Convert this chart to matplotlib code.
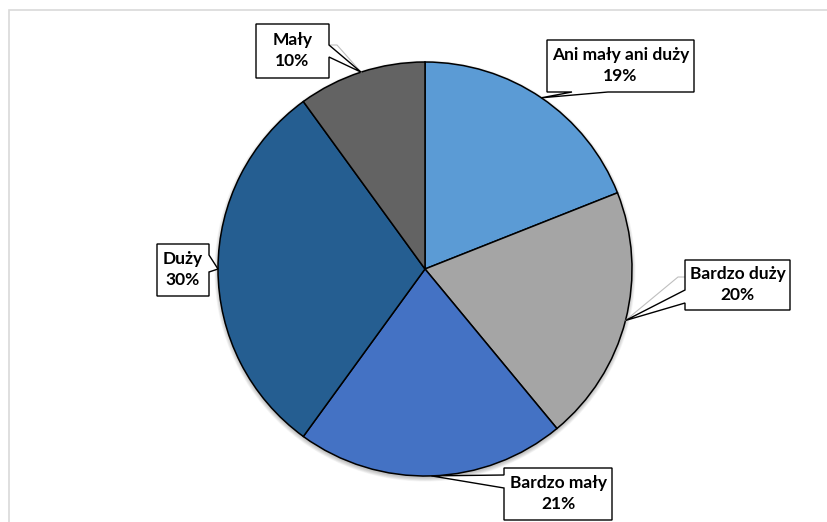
import numpy as np
import matplotlib
matplotlib.use("Agg")
import matplotlib.pyplot as plt
from matplotlib.patches import Polygon, Rectangle, Circle

# Answers (share of respondents, %)
categories = ["Ani mały ani duży", "Bardzo duży", "Bardzo mały", "Duży", "Mały"]
shares = [19, 20, 21, 30, 10]
colors = ["#5B9BD5", "#A5A5A5", "#4472C4", "#255E91", "#636363"]

W, H = 827, 522
fig = plt.figure(figsize=(W / 100, H / 100), dpi=100)
ax = fig.add_axes([0, 0, 1, 1])

plt.rcParams["font.family"] = ["Lato", "DejaVu Sans"]

# chart area frame
fig.patches.append(Rectangle((9 / W, -0.1), 1.2, (H - 10) / H + 0.1,
                             transform=fig.transFigure, fill=False,
                             edgecolor="#D9D9D9", linewidth=1.2))

cx, cy, r = 425, H - 269, 207

# soft shadow around the pie
for i in range(7):
    ax.add_patch(Circle((cx, cy - 2.0), r + 0.6 * i, color="black",
                        alpha=0.035, linewidth=0, zorder=1))

wedges, _ = ax.pie(shares, colors=colors, startangle=90, counterclock=False,
                   center=(cx, cy), radius=r, frame=True,
                   wedgeprops=dict(edgecolor="black", linewidth=1.1))
for w in wedges:
    w.set_zorder(2)
ax.set_xlim(0, W)
ax.set_ylim(0, H)
ax.set_aspect("equal")
ax.axis("off")

# callout boxes: (x0, y0, x1, y1) in pixels from top-left, side of the pointer, pointer base
callouts = {
    "Ani mały ani duży": ((547, 40, 694, 92), "bottom", (572, 608), None),
    "Bardzo duży": ((685, 260, 790, 310), "left", (290, 303), [(685, 277), (678, 277)]),
    "Bardzo mały": ((504, 468, 612, 520), "left", (475, 488), None),
    "Duży": ((157, 244, 209, 296), "right", (255, 272), None),
    "Mały": ((256, 24, 329, 78), "right", (45, 57), [(329, 45), (337, 45)]),
}

def to_data(p):
    return (p[0], H - p[1])

total = sum(shares)
start = 90.0
for name, val in zip(categories, shares):
    sweep = 360.0 * val / total
    mid = np.deg2rad(start - sweep / 2)
    start -= sweep
    tip_d = (cx + r * np.cos(mid), cy + r * np.sin(mid))
    tip = (tip_d[0], H - tip_d[1])

    (x0, y0, x1, y1), side, (a, b), leader = callouts[name]
    pts = [(x0, y0), (x1, y0)]
    if side == "right":
        pts += [(x1, a), tip, (x1, b)]
    pts += [(x1, y1)]
    if side == "bottom":
        pts += [(b, y1), tip, (a, y1)]
    pts += [(x0, y1)]
    if side == "left":
        pts += [(x0, b), tip, (x0, a)]

    if leader:
        lp = [to_data(p) for p in leader] + [tip_d]
        ax.plot([p[0] for p in lp], [p[1] for p in lp], color="#BFBFBF",
                linewidth=0.8, zorder=3)

    ax.add_patch(Polygon([to_data(p) for p in pts], closed=True,
                         facecolor="white", edgecolor="black",
                         linewidth=1.0, zorder=4, joinstyle="miter"))
    ax.text((x0 + x1) / 2, H - (y0 + y1) / 2 + 0.5, f"{name}\n{val}%",
            ha="center", va="center", fontsize=12.5, fontweight="bold",
            linespacing=1.4, color="black", zorder=5)

fig.savefig("out.png", dpi=100)
